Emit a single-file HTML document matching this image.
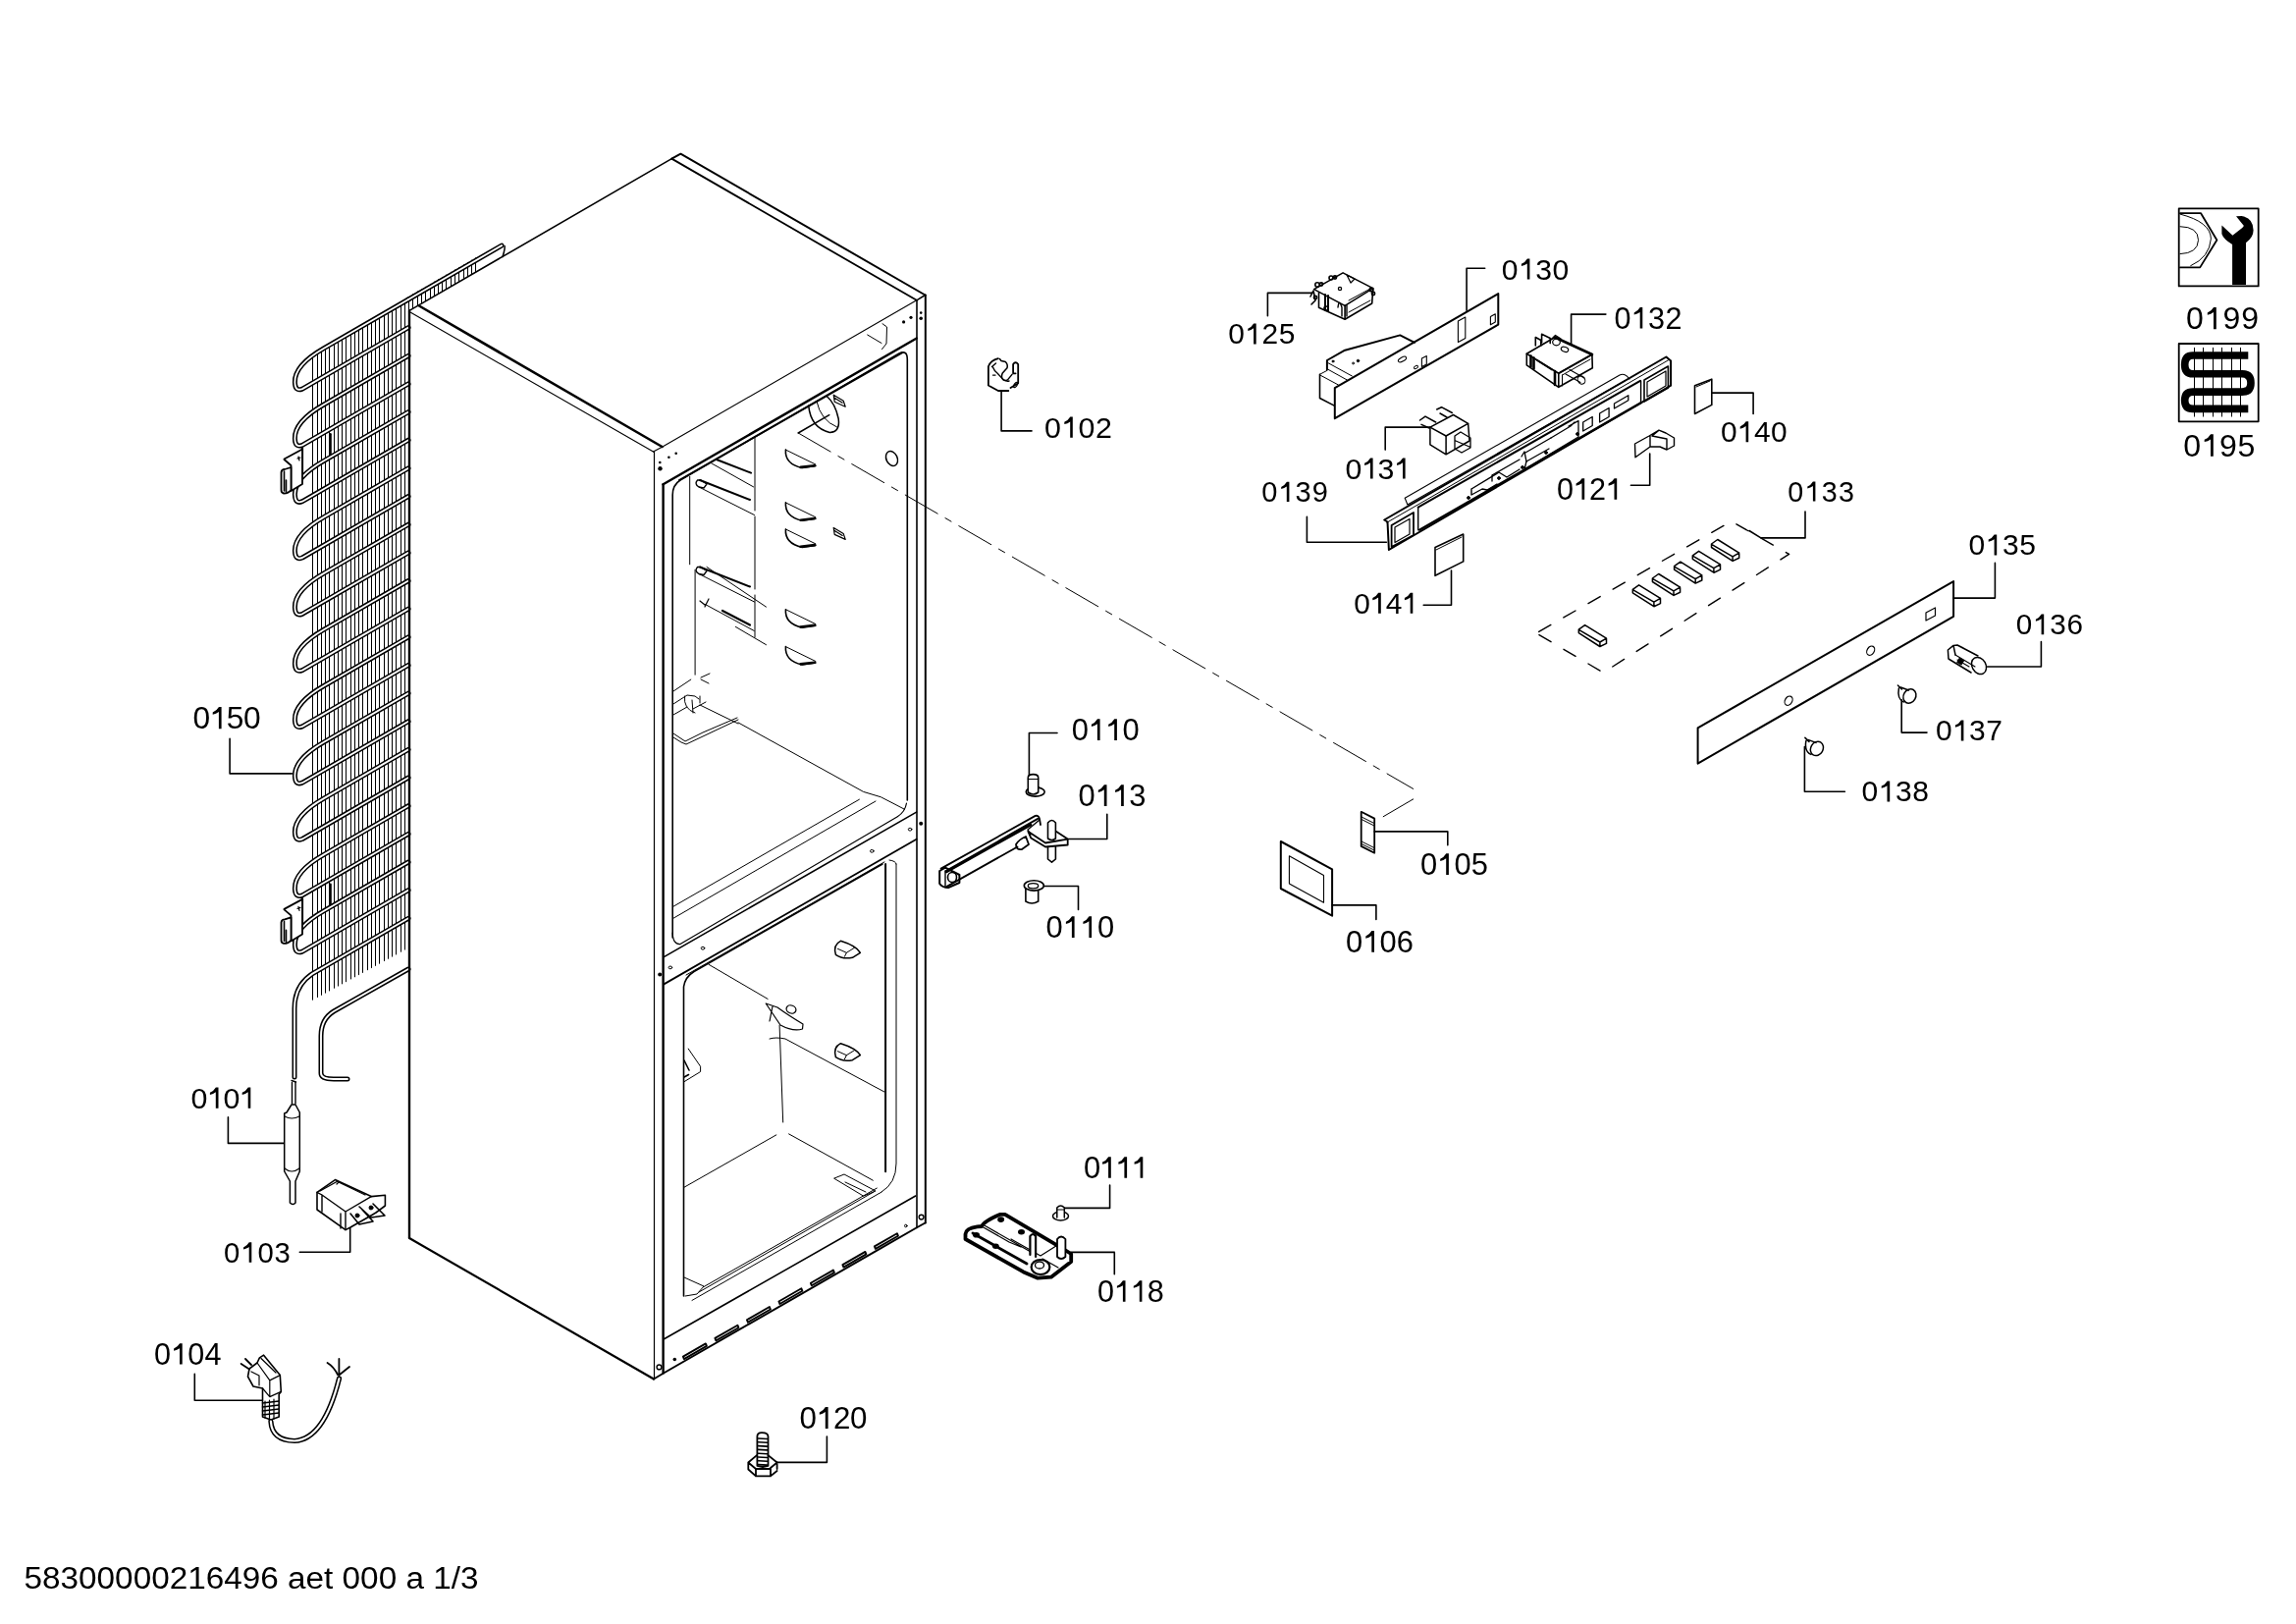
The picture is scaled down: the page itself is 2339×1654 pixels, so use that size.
<!DOCTYPE html>
<html><head><meta charset="utf-8"><style>
html,body{margin:0;padding:0;background:#fff;overflow:hidden}
svg{display:block;will-change:transform}
</style></head><body>
<svg width="2339" height="1654" viewBox="0 0 2339 1654" stroke-linecap="round" stroke-linejoin="round">
<rect width="2339" height="1654" fill="#fff"/>
<g font-family="&quot;Liberation Sans&quot;, sans-serif" fill="#000" stroke="none">
<text x="1529.8" y="284.6" font-size="30.1">0</text>
<path d="M1555.9,263.5 L1558.4,263.5 L1558.4,284.6 L1555.8,284.6 L1555.8,268.4 Q1553.3,270.3 1549.9,270.9 L1549.9,268.8 Q1553.8,267.2 1555.9,263.5 Z"/>
<text x="1564.2" y="284.6" font-size="30.1">3</text>
<text x="1581.4" y="284.6" font-size="30.1">0</text>
<text x="1251.2" y="350.4" font-size="29.9">0</text>
<path d="M1277.2,329.5 L1279.7,329.5 L1279.7,350.4 L1277.1,350.4 L1277.1,334.3 Q1274.5,336.3 1271.3,336.9 L1271.3,334.7 Q1275.0,333.2 1277.2,329.5 Z"/>
<text x="1285.6" y="350.4" font-size="29.9">2</text>
<text x="1302.8" y="350.4" font-size="29.9">5</text>
<text x="1644.4" y="334.5" font-size="30.6">0</text>
<path d="M1670.8,313.1 L1673.3,313.1 L1673.3,334.5 L1670.7,334.5 L1670.7,318.1 Q1668.1,320.0 1664.7,320.6 L1664.7,318.5 Q1668.6,316.9 1670.8,313.1 Z"/>
<text x="1679.1" y="334.5" font-size="30.6">3</text>
<text x="1696.5" y="334.5" font-size="30.6">2</text>
<text x="1064.0" y="445.8" font-size="30.4">0</text>
<path d="M1090.3,424.5 L1092.8,424.5 L1092.8,445.8 L1090.2,445.8 L1090.2,429.4 Q1087.6,431.4 1084.3,432.0 L1084.3,429.8 Q1088.1,428.2 1090.3,424.5 Z"/>
<text x="1098.6" y="445.8" font-size="30.4">0</text>
<text x="1115.9" y="445.8" font-size="30.4">2</text>
<text x="1752.9" y="450.2" font-size="29.9">0</text>
<path d="M1778.7,429.3 L1781.2,429.3 L1781.2,450.2 L1778.6,450.2 L1778.6,434.1 Q1776.0,436.1 1772.7,436.7 L1772.7,434.5 Q1776.5,433.0 1778.7,429.3 Z"/>
<text x="1786.9" y="450.2" font-size="29.9">4</text>
<text x="1803.9" y="450.2" font-size="29.9">0</text>
<text x="1370.6" y="487.6" font-size="30.3">0</text>
<path d="M1396.1,466.4 L1398.6,466.4 L1398.6,487.6 L1396.0,487.6 L1396.0,471.3 Q1393.4,473.3 1390.1,473.9 L1390.1,471.7 Q1393.9,470.1 1396.1,466.4 Z"/>
<text x="1403.6" y="487.6" font-size="30.3">3</text>
<path d="M1429.1,466.4 L1431.6,466.4 L1431.6,487.6 L1429.0,487.6 L1429.0,471.3 Q1426.4,473.3 1423.1,473.9 L1423.1,471.7 Q1426.9,470.1 1429.1,466.4 Z"/>
<text x="1285.2" y="511.1" font-size="29.0">0</text>
<path d="M1310.9,490.8 L1313.4,490.8 L1313.4,511.1 L1310.8,511.1 L1310.8,495.5 Q1308.4,497.4 1305.2,497.9 L1305.2,495.9 Q1308.9,494.4 1310.9,490.8 Z"/>
<text x="1319.6" y="511.1" font-size="29.0">3</text>
<text x="1336.7" y="511.1" font-size="29.0">9</text>
<text x="1586.1" y="508.7" font-size="30.6">0</text>
<path d="M1611.6,487.3 L1614.2,487.3 L1614.2,508.7 L1611.5,508.7 L1611.5,492.3 Q1609.0,494.2 1605.6,494.8 L1605.6,492.6 Q1609.4,491.1 1611.6,487.3 Z"/>
<text x="1619.1" y="508.7" font-size="30.6">2</text>
<path d="M1644.6,487.3 L1647.2,487.3 L1647.2,508.7 L1644.5,508.7 L1644.5,492.3 Q1642.0,494.2 1638.6,494.8 L1638.6,492.6 Q1642.4,491.1 1644.6,487.3 Z"/>
<text x="1821.3" y="510.5" font-size="28.7">0</text>
<path d="M1846.9,490.4 L1849.4,490.4 L1849.4,510.5 L1846.9,510.5 L1846.9,495.1 Q1844.4,496.9 1841.3,497.5 L1841.3,495.4 Q1844.9,493.9 1846.9,490.4 Z"/>
<text x="1855.7" y="510.5" font-size="28.7">3</text>
<text x="1872.9" y="510.5" font-size="28.7">3</text>
<text x="2005.6" y="565.4" font-size="30.0">0</text>
<path d="M2031.6,544.4 L2034.2,544.4 L2034.2,565.4 L2031.6,565.4 L2031.6,549.3 Q2029.0,551.2 2025.7,551.8 L2025.7,549.6 Q2029.5,548.1 2031.6,544.4 Z"/>
<text x="2040.1" y="565.4" font-size="30.0">3</text>
<text x="2057.3" y="565.4" font-size="30.0">5</text>
<text x="1379.2" y="624.7" font-size="29.9">0</text>
<path d="M1404.2,603.8 L1406.8,603.8 L1406.8,624.7 L1404.1,624.7 L1404.1,608.6 Q1401.6,610.6 1398.3,611.2 L1398.3,609.0 Q1402.1,607.5 1404.2,603.8 Z"/>
<text x="1411.7" y="624.7" font-size="29.9">4</text>
<path d="M1436.8,603.8 L1439.3,603.8 L1439.3,624.7 L1436.7,624.7 L1436.7,608.6 Q1434.2,610.6 1430.9,611.2 L1430.9,609.0 Q1434.7,607.5 1436.8,603.8 Z"/>
<text x="2053.7" y="646.3" font-size="29.7">0</text>
<path d="M2079.7,625.5 L2082.2,625.5 L2082.2,646.3 L2079.6,646.3 L2079.6,630.3 Q2077.1,632.2 2073.9,632.8 L2073.9,630.7 Q2077.6,629.2 2079.7,625.5 Z"/>
<text x="2088.3" y="646.3" font-size="29.7">3</text>
<text x="2105.6" y="646.3" font-size="29.7">6</text>
<text x="1972.0" y="754.4" font-size="30.0">0</text>
<path d="M1997.9,733.4 L2000.4,733.4 L2000.4,754.4 L1997.8,754.4 L1997.8,738.3 Q1995.2,740.2 1991.9,740.8 L1991.9,738.6 Q1995.7,737.1 1997.9,733.4 Z"/>
<text x="2006.1" y="754.4" font-size="30.0">3</text>
<text x="2023.2" y="754.4" font-size="30.0">7</text>
<text x="196.5" y="742.2" font-size="31.7">0</text>
<path d="M223.0,720.0 L225.6,720.0 L225.6,742.2 L222.9,742.2 L222.9,725.1 Q220.2,727.2 216.7,727.8 L216.7,725.6 Q220.7,723.9 223.0,720.0 Z"/>
<text x="230.8" y="742.2" font-size="31.7">5</text>
<text x="247.9" y="742.2" font-size="31.7">0</text>
<text x="1091.7" y="753.9" font-size="30.9">0</text>
<path d="M1118.0,732.3 L1120.6,732.3 L1120.6,753.9 L1117.9,753.9 L1117.9,737.3 Q1115.3,739.3 1111.9,739.9 L1111.9,737.7 Q1115.8,736.1 1118.0,732.3 Z"/>
<path d="M1135.3,732.3 L1137.9,732.3 L1137.9,753.9 L1135.2,753.9 L1135.2,737.3 Q1132.6,739.3 1129.2,739.9 L1129.2,737.7 Q1133.1,736.1 1135.3,732.3 Z"/>
<text x="1143.4" y="753.9" font-size="30.9">0</text>
<text x="1098.6" y="820.9" font-size="30.9">0</text>
<path d="M1124.9,799.3 L1127.5,799.3 L1127.5,820.9 L1124.8,820.9 L1124.8,804.3 Q1122.2,806.3 1118.8,806.9 L1118.8,804.7 Q1122.7,803.1 1124.9,799.3 Z"/>
<path d="M1142.2,799.3 L1144.8,799.3 L1144.8,820.9 L1142.1,820.9 L1142.1,804.3 Q1139.5,806.3 1136.1,806.9 L1136.1,804.7 Q1140.0,803.1 1142.2,799.3 Z"/>
<text x="1150.3" y="820.9" font-size="30.9">3</text>
<text x="1896.6" y="816.4" font-size="30.0">0</text>
<path d="M1922.6,795.4 L1925.2,795.4 L1925.2,816.4 L1922.5,816.4 L1922.5,800.3 Q1920.0,802.2 1916.7,802.8 L1916.7,800.6 Q1920.5,799.1 1922.6,795.4 Z"/>
<text x="1931.0" y="816.4" font-size="30.0">3</text>
<text x="1948.3" y="816.4" font-size="30.0">8</text>
<text x="1446.9" y="890.9" font-size="30.9">0</text>
<path d="M1473.3,869.3 L1475.9,869.3 L1475.9,890.9 L1473.2,890.9 L1473.2,874.3 Q1470.6,876.3 1467.2,876.9 L1467.2,874.7 Q1471.1,873.1 1473.3,869.3 Z"/>
<text x="1481.5" y="890.9" font-size="30.9">0</text>
<text x="1498.8" y="890.9" font-size="30.9">5</text>
<text x="1065.5" y="954.9" font-size="30.9">0</text>
<path d="M1092.0,933.3 L1094.6,933.3 L1094.6,954.9 L1091.9,954.9 L1091.9,938.3 Q1089.3,940.3 1085.9,940.9 L1085.9,938.7 Q1089.8,937.1 1092.0,933.3 Z"/>
<path d="M1109.5,933.3 L1112.1,933.3 L1112.1,954.9 L1109.4,954.9 L1109.4,938.3 Q1106.8,940.3 1103.4,940.9 L1103.4,938.7 Q1107.3,937.1 1109.5,933.3 Z"/>
<text x="1117.9" y="954.9" font-size="30.9">0</text>
<text x="1371.1" y="969.7" font-size="30.9">0</text>
<path d="M1397.4,948.1 L1400.0,948.1 L1400.0,969.7 L1397.3,969.7 L1397.3,953.1 Q1394.7,955.1 1391.3,955.7 L1391.3,953.5 Q1395.2,951.9 1397.4,948.1 Z"/>
<text x="1405.5" y="969.7" font-size="30.9">0</text>
<text x="1422.7" y="969.7" font-size="30.9">6</text>
<text x="194.5" y="1128.7" font-size="30.4">0</text>
<path d="M219.9,1107.4 L222.5,1107.4 L222.5,1128.7 L219.8,1128.7 L219.8,1112.3 Q217.3,1114.3 213.9,1114.9 L213.9,1112.7 Q217.7,1111.1 219.9,1107.4 Z"/>
<text x="227.4" y="1128.7" font-size="30.4">0</text>
<path d="M252.8,1107.4 L255.3,1107.4 L255.3,1128.7 L252.7,1128.7 L252.7,1112.3 Q250.1,1114.3 246.7,1114.9 L246.7,1112.7 Q250.6,1111.1 252.8,1107.4 Z"/>
<text x="1103.9" y="1199.8" font-size="30.9">0</text>
<path d="M1129.2,1178.2 L1131.8,1178.2 L1131.8,1199.8 L1129.1,1199.8 L1129.1,1183.2 Q1126.5,1185.2 1123.1,1185.8 L1123.1,1183.6 Q1127.0,1182.0 1129.2,1178.2 Z"/>
<path d="M1145.5,1178.2 L1148.1,1178.2 L1148.1,1199.8 L1145.4,1199.8 L1145.4,1183.2 Q1142.8,1185.2 1139.4,1185.8 L1139.4,1183.6 Q1143.3,1182.0 1145.5,1178.2 Z"/>
<path d="M1161.7,1178.2 L1164.3,1178.2 L1164.3,1199.8 L1161.6,1199.8 L1161.6,1183.2 Q1159.0,1185.2 1155.6,1185.8 L1155.6,1183.6 Q1159.5,1182.0 1161.7,1178.2 Z"/>
<text x="228.0" y="1285.8" font-size="29.3">0</text>
<path d="M253.8,1265.3 L256.3,1265.3 L256.3,1285.8 L253.7,1285.8 L253.7,1270.0 Q251.3,1271.9 248.0,1272.5 L248.0,1270.4 Q251.7,1268.9 253.8,1265.3 Z"/>
<text x="262.4" y="1285.8" font-size="29.3">0</text>
<text x="279.6" y="1285.8" font-size="29.3">3</text>
<text x="1118.0" y="1325.7" font-size="30.6">0</text>
<path d="M1143.9,1304.3 L1146.5,1304.3 L1146.5,1325.7 L1143.9,1325.7 L1143.9,1309.3 Q1141.3,1311.2 1137.9,1311.8 L1137.9,1309.7 Q1141.8,1308.1 1143.9,1304.3 Z"/>
<path d="M1160.9,1304.3 L1163.4,1304.3 L1163.4,1325.7 L1160.8,1325.7 L1160.8,1309.3 Q1158.2,1311.2 1154.8,1311.8 L1154.8,1309.7 Q1158.7,1308.1 1160.9,1304.3 Z"/>
<text x="1168.8" y="1325.7" font-size="30.6">8</text>
<text x="156.9" y="1389.6" font-size="30.6">0</text>
<path d="M183.1,1368.2 L185.7,1368.2 L185.7,1389.6 L183.0,1389.6 L183.0,1373.2 Q180.4,1375.1 177.1,1375.7 L177.1,1373.5 Q180.9,1372.0 183.1,1368.2 Z"/>
<text x="191.3" y="1389.6" font-size="30.6">0</text>
<text x="208.5" y="1389.6" font-size="30.6">4</text>
<text x="814.6" y="1454.9" font-size="31.3">0</text>
<path d="M840.9,1433.0 L843.6,1433.0 L843.6,1454.9 L840.8,1454.9 L840.8,1438.1 Q838.2,1440.1 834.8,1440.7 L834.8,1438.5 Q838.7,1436.9 840.9,1433.0 Z"/>
<text x="848.9" y="1454.9" font-size="31.3">2</text>
<text x="866.0" y="1454.9" font-size="31.3">0</text>
<text x="2226.9" y="335.3" font-size="32.0">0</text>
<path d="M2255.1,312.9 L2257.8,312.9 L2257.8,335.3 L2255.0,335.3 L2255.0,318.1 Q2252.3,320.2 2248.8,320.8 L2248.8,318.5 Q2252.8,316.8 2255.1,312.9 Z"/>
<text x="2264.5" y="335.3" font-size="32.0">9</text>
<text x="2283.3" y="335.3" font-size="32.0">9</text>
<text x="2224.3" y="464.7" font-size="32.1">0</text>
<path d="M2252.1,442.2 L2254.8,442.2 L2254.8,464.7 L2252.0,464.7 L2252.0,447.4 Q2249.3,449.5 2245.7,450.1 L2245.7,447.8 Q2249.8,446.2 2252.1,442.2 Z"/>
<text x="2261.0" y="464.7" font-size="32.1">9</text>
<text x="2279.4" y="464.7" font-size="32.1">5</text>
<text x="24.5" y="1618.4" font-size="31" textLength="463" lengthAdjust="spacingAndGlyphs">58300000216496 aet 000 a 1/3</text>
</g>
<g stroke="#000" fill="none" stroke-width="1.6">
<path d="M1512.7,273.3 L1494.1,273.3 L1494.1,316.2"/>
<path d="M1336.7,298.4 L1291.4,298.4 L1291.4,321.7"/>
<path d="M1635.9,320.1 L1600.6,320.1 L1600.6,351.0"/>
<path d="M1020.1,397.9 L1020.1,438.9 L1051.0,438.9"/>
<path d="M1786.1,421.5 L1786.1,400.1 L1744.3,400.1"/>
<path d="M1411.2,458.1 L1411.2,435.1 L1456.4,435.1"/>
<path d="M1331.4,526.2 L1331.4,552.3 L1412.4,552.3"/>
<path d="M1661.4,494.3 L1680.7,494.3 L1680.7,462.0"/>
<path d="M1839.0,521.0 L1839.0,547.9 L1793.9,547.9 L1782.0,540.5"/>
<path d="M2032.4,573.4 L2032.4,609.1 L1990.1,609.1"/>
<path d="M1450.2,616.3 L1478.5,616.3 L1478.5,581.0"/>
<path d="M2079.4,653.6 L2079.4,679.0 L2024.4,679.0"/>
<path d="M1963.0,746.1 L1937.2,746.1 L1937.2,712.7"/>
<path d="M1879.4,806.3 L1838.4,806.3 L1838.4,760.5"/>
<path d="M234.1,752.3 L234.1,787.9 L297.3,787.9"/>
<path d="M1077.0,746.5 L1048.4,746.5 L1048.4,789.6"/>
<path d="M1127.8,829.3 L1127.8,854.5 L1088.5,854.5"/>
<path d="M1098.5,926.4 L1098.5,902.5 L1061.5,902.5"/>
<path d="M1474.8,860.7 L1474.8,846.9 L1400.2,846.9"/>
<path d="M1401.9,936.4 L1401.9,921.9 L1357.1,921.9"/>
<path d="M232.4,1137.9 L232.4,1164.4 L289.0,1164.4"/>
<path d="M305.3,1275.2 L356.7,1275.2 L356.7,1250.4"/>
<path d="M198.3,1399.4 L198.3,1426.2 L267.0,1426.2"/>
<path d="M842.4,1463.0 L842.4,1489.4 L791.2,1489.4"/>
<path d="M1130.6,1207.1 L1130.6,1230.4 L1082.3,1230.4"/>
<path d="M1135.3,1297.7 L1135.3,1275.4 L1091.2,1275.4"/>
</g>
<g stroke="#000" fill="none">
<line x1="417.0" y1="316.0" x2="417.0" y2="1261.0" stroke-width="2.2"/>
<line x1="417.0" y1="1261.0" x2="666.0" y2="1404.5" stroke-width="2.2"/>
<line x1="666.5" y1="460.0" x2="666.5" y2="1404.0" stroke-width="1.2"/>
<line x1="427.0" y1="311.5" x2="674.5" y2="455.0" stroke-width="2.6"/>
<line x1="418.0" y1="318.0" x2="665.5" y2="460.0" stroke-width="1.1"/>
<path d="M684.3,161.6 L693.4,156.7 L942.5,300.5" stroke-width="2.0" fill="none"/>
<line x1="684.3" y1="161.6" x2="933.8" y2="305.8" stroke-width="1.8"/>
<line x1="674.5" y1="455.3" x2="933.8" y2="305.8" stroke-width="1.1"/>
<line x1="933.8" y1="305.8" x2="942.5" y2="300.5" stroke-width="1.5"/>
<line x1="665.5" y1="460.0" x2="674.5" y2="455.3" stroke-width="1.2"/>
<line x1="942.8" y1="300.5" x2="942.8" y2="1245.5" stroke-width="2.0"/>
<line x1="934.0" y1="305.8" x2="934.0" y2="1250.5" stroke-width="1.6"/>
<path d="M666,1404.5 L676,1398.5 L933.5,1250.5 L942.5,1245.5" stroke-width="2.0" fill="none"/>
<line x1="675.6" y1="493.3" x2="675.6" y2="1398.5" stroke-width="2.4"/>
<line x1="675.6" y1="493.3" x2="933.8" y2="344.5" stroke-width="2.4"/>
<path d="M685.2,955 L685.2,504 Q685.2,494 693,489 L916,360 Q924.3,356 924.3,366 L924.3,815" stroke-width="1.6" fill="none"/>
<line x1="702.7" y1="485.4" x2="702.7" y2="574.8" stroke-width="1.0"/>
<line x1="708.1" y1="580.2" x2="708.1" y2="687.2" stroke-width="1.0"/>
<line x1="769.0" y1="446.0" x2="769.0" y2="520.0" stroke-width="1.0"/>
<line x1="769.0" y1="526.0" x2="769.0" y2="600.0" stroke-width="1.0"/>
<line x1="769.0" y1="606.0" x2="769.0" y2="649.0" stroke-width="1.0"/>
<path d="M752,735.9 L879.6,806.4 L897.5,811.8 L921.6,824.3" stroke-width="1.0" fill="none"/>
<line x1="686.0" y1="923.2" x2="875.4" y2="814.2" stroke-width="1.0"/>
<line x1="686.0" y1="935.2" x2="892.0" y2="816.0" stroke-width="1.0"/>
<path d="M685.2,950 Q685.5,962 693,961.6 L914.3,831.7 Q922,827 923.5,818" stroke-width="1.2" fill="none"/>
<line x1="675.9" y1="974.9" x2="933.6" y2="827.1" stroke-width="1.6"/>
<line x1="675.9" y1="1002.6" x2="933.6" y2="854.8" stroke-width="1.8"/>
<path d="M696.5,1320 L696.5,1005 Q698,995 707,989.5 L899,880" stroke-width="1.6" fill="none"/>
<line x1="699.0" y1="993.0" x2="901.0" y2="877.9" stroke-width="1.0"/>
<line x1="902.1" y1="880.0" x2="902.1" y2="1193.3" stroke-width="2.0"/>
<path d="M913,880 Q913,877 906,876 M913,880 L913,1185 Q913,1205 898,1214" stroke-width="1.0" fill="none"/>
<line x1="705.0" y1="1324.4" x2="898.2" y2="1214.0" stroke-width="1.0"/>
<line x1="676.5" y1="1363.8" x2="932.7" y2="1218.0" stroke-width="1.6"/>
<defs><clipPath id="finclip"><path d="M316,362.7 L417,304.4 L417,965 L316,1020 Z"/></clipPath>
<clipPath id="finclip2"><path d="M416,302.0 L486,261.6 L486,276.6 L416,317.0 Z"/></clipPath></defs>
<path d="M318.5,250 V1030 M323.5,250 V1030 M327.5,250 V1030 M331.5,250 V1030 M335.5,250 V1030 M340.5,250 V1030 M344.5,250 V1030 M348.5,250 V1030 M352.5,250 V1030 M357.5,250 V1030 M361.5,250 V1030 M365.5,250 V1030 M369.5,250 V1030 M374.5,250 V1030 M378.5,250 V1030 M382.5,250 V1030 M386.5,250 V1030 M391.5,250 V1030 M395.5,250 V1030 M399.5,250 V1030 M403.5,250 V1030 M408.5,250 V1030 M412.5,250 V1030 M416.5,250 V1030 " stroke-width="1" clip-path="url(#finclip)"/>
<path d="M420.5,240 V330 M425.5,240 V330 M429.5,240 V330 M433.5,240 V330 M438.5,240 V330 M442.5,240 V330 M446.5,240 V330 M450.5,240 V330 M454.5,240 V330 M459.5,240 V330 M463.5,240 V330 M467.5,240 V330 M472.5,240 V330 M476.5,240 V330 M480.5,240 V330 M484.5,240 V330 " stroke-width="1" clip-path="url(#finclip2)"/>
<path d="M416,305.0 L330,354.7 C312,365.0 300,377.0 300.4,389.3 C300.6,396.0 303,398.0 308,396.1 L416,333.6" stroke-width="5.0"/>
<path d="M416,362.3 L330,412.0 C312,422.3 300,434.3 300.4,446.6 C300.6,453.3 303,455.3 308,453.4 L416,390.9" stroke-width="5.0"/>
<path d="M416,419.6 L330,469.3 C312,479.6 300,491.6 300.4,503.9 C300.6,510.6 303,512.6 308,510.7 L416,448.2" stroke-width="5.0"/>
<path d="M416,476.9 L330,526.6 C312,536.9 300,548.9 300.4,561.2 C300.6,567.9 303,569.9 308,568.0 L416,505.5" stroke-width="5.0"/>
<path d="M416,534.2 L330,583.9 C312,594.2 300,606.2 300.4,618.5 C300.6,625.2 303,627.2 308,625.3 L416,562.9" stroke-width="5.0"/>
<path d="M416,591.5 L330,641.2 C312,651.5 300,663.5 300.4,675.8 C300.6,682.5 303,684.5 308,682.6 L416,620.1" stroke-width="5.0"/>
<path d="M416,648.8 L330,698.5 C312,708.8 300,720.8 300.4,733.1 C300.6,739.8 303,741.8 308,739.9 L416,677.4" stroke-width="5.0"/>
<path d="M416,706.1 L330,755.8 C312,766.1 300,778.1 300.4,790.4 C300.6,797.1 303,799.1 308,797.2 L416,734.7" stroke-width="5.0"/>
<path d="M416,763.4 L330,813.1 C312,823.4 300,835.4 300.4,847.7 C300.6,854.4 303,856.4 308,854.5 L416,792.0" stroke-width="5.0"/>
<path d="M416,820.7 L330,870.4 C312,880.7 300,892.7 300.4,905.0 C300.6,911.7 303,913.7 308,911.8 L416,849.3" stroke-width="5.0"/>
<path d="M416,878.0 L330,927.7 C312,938.0 300,950.0 300.4,962.3 C300.6,969.0 303,971.0 308,969.1 L416,906.6" stroke-width="5.0"/>
<path d="M416,305.0 L511,250.1" stroke-width="5.0"/>
<path d="M416,935.3 L318,991.9 Q300,1003.9 300,1026.9 L300,1097" stroke-width="5.0"/>
<path d="M416,987 L340,1030 Q327,1038 327,1055 L327,1093 Q327,1099 340,1099 L354,1099" stroke-width="5.0"/>
<path d="M416,305.0 L330,354.7 C312,365.0 300,377.0 300.4,389.3 C300.6,396.0 303,398.0 308,396.1 L416,333.6" stroke="#fff" stroke-width="1.9"/>
<path d="M416,362.3 L330,412.0 C312,422.3 300,434.3 300.4,446.6 C300.6,453.3 303,455.3 308,453.4 L416,390.9" stroke="#fff" stroke-width="1.9"/>
<path d="M416,419.6 L330,469.3 C312,479.6 300,491.6 300.4,503.9 C300.6,510.6 303,512.6 308,510.7 L416,448.2" stroke="#fff" stroke-width="1.9"/>
<path d="M416,476.9 L330,526.6 C312,536.9 300,548.9 300.4,561.2 C300.6,567.9 303,569.9 308,568.0 L416,505.5" stroke="#fff" stroke-width="1.9"/>
<path d="M416,534.2 L330,583.9 C312,594.2 300,606.2 300.4,618.5 C300.6,625.2 303,627.2 308,625.3 L416,562.9" stroke="#fff" stroke-width="1.9"/>
<path d="M416,591.5 L330,641.2 C312,651.5 300,663.5 300.4,675.8 C300.6,682.5 303,684.5 308,682.6 L416,620.1" stroke="#fff" stroke-width="1.9"/>
<path d="M416,648.8 L330,698.5 C312,708.8 300,720.8 300.4,733.1 C300.6,739.8 303,741.8 308,739.9 L416,677.4" stroke="#fff" stroke-width="1.9"/>
<path d="M416,706.1 L330,755.8 C312,766.1 300,778.1 300.4,790.4 C300.6,797.1 303,799.1 308,797.2 L416,734.7" stroke="#fff" stroke-width="1.9"/>
<path d="M416,763.4 L330,813.1 C312,823.4 300,835.4 300.4,847.7 C300.6,854.4 303,856.4 308,854.5 L416,792.0" stroke="#fff" stroke-width="1.9"/>
<path d="M416,820.7 L330,870.4 C312,880.7 300,892.7 300.4,905.0 C300.6,911.7 303,913.7 308,911.8 L416,849.3" stroke="#fff" stroke-width="1.9"/>
<path d="M416,878.0 L330,927.7 C312,938.0 300,950.0 300.4,962.3 C300.6,969.0 303,971.0 308,969.1 L416,906.6" stroke="#fff" stroke-width="1.9"/>
<path d="M416,305.0 L511,250.1" stroke="#fff" stroke-width="1.9"/>
<path d="M416,935.3 L318,991.9 Q300,1003.9 300,1026.9 L300,1097" stroke="#fff" stroke-width="1.9"/>
<path d="M416,987 L340,1030 Q327,1038 327,1055 L327,1093 Q327,1099 340,1099 L354,1099" stroke="#fff" stroke-width="1.9"/>
<path d="M514.1,250.6 Q514.5,254.1 512.0,261.5" stroke-width="1.5"/>
<line x1="417.0" y1="316.4" x2="684.3" y2="161.6" stroke-width="1.6"/>
<line x1="417.0" y1="316.4" x2="417.0" y2="1261.0" stroke-width="2.2"/>
<line x1="692.0" y1="489.0" x2="918.8" y2="359.3" stroke-width="2.0"/>
<circle cx="672.5" cy="477.3" r="2.2" fill="#000" stroke="none"/>
<circle cx="672.3" cy="471" r="1.3" fill="#000" stroke="none"/>
<circle cx="681.4" cy="465.7" r="1.3" fill="#000" stroke="none"/>
<circle cx="688.7" cy="461.8" r="1.3" fill="#000" stroke="none"/>
<circle cx="920.6" cy="327.9" r="1.6" fill="#000" stroke="none"/>
<circle cx="928" cy="323.3" r="1.6" fill="#000" stroke="none"/>
<circle cx="938.2" cy="324.2" r="1.8" fill="#000" stroke="none"/>
<circle cx="938.2" cy="318.6" r="1.3" fill="#000" stroke="none"/>
<path d="M883.7,341 L898,349.5 M899,329.7 L903.5,333 L903,350 L898.5,355.6" stroke-width="1.0" fill="none"/>
<path d="M823.7,413.2 Q826,436 845.3,440.4 Q856,440 854.2,426.5 Q851,411 842,403.3" stroke-width="1.5" fill="none"/>
<path d="M832,408.8 Q836,428 852.5,434.9" stroke-width="1.0" fill="none"/>
<path d="M813.2,441 L844.8,422.7" stroke-width="1.5" fill="none"/>
<path d="M849.2,402.2 L859.2,408.2 L861.2,414.2 L850.2,409.2 Z M850.2,405.2 L858.2,410.2" stroke-width="1.2" fill="none"/>
<path d="M849.2,537.4 L859.2,543.4 L861.2,549.4 L850.2,544.4 Z M850.2,540.4 L858.2,545.4" stroke-width="1.2" fill="none"/>
<ellipse cx="908.5" cy="467" rx="5.6" ry="7.8" transform="rotate(-25 908.5 467)" stroke-width="1.5"/>
<path d="M800.4,458.1 L830.9,473.0" stroke-width="1"/>
<path d="M800.4,458.1 Q799.4,472.7 817.2,476.5 L830.9,474.5" stroke-width="1.6"/>
<path d="M815.6,475.9 L829.9,474.2" stroke-width="2.6"/>
<path d="M800.4,511.9 L830.9,526.8" stroke-width="1"/>
<path d="M800.4,511.9 Q799.4,526.4 817.2,530.3 L830.9,528.3" stroke-width="1.6"/>
<path d="M815.6,529.7 L829.9,528.0" stroke-width="2.6"/>
<path d="M800.4,539.0 L830.9,553.9" stroke-width="1"/>
<path d="M800.4,539.0 Q799.4,553.5 817.2,557.4 L830.9,555.4" stroke-width="1.6"/>
<path d="M815.6,556.8 L829.9,555.1" stroke-width="2.6"/>
<path d="M800.4,620.7 L830.9,635.6" stroke-width="1"/>
<path d="M800.4,620.7 Q799.4,635.2 817.2,639.1 L830.9,637.1" stroke-width="1.6"/>
<path d="M815.6,638.5 L829.9,636.8" stroke-width="2.6"/>
<path d="M800.4,658.6 L830.9,673.5" stroke-width="1"/>
<path d="M800.4,658.6 Q799.4,673.1 817.2,677.0 L830.9,675.0" stroke-width="1.6"/>
<path d="M815.6,676.4 L829.9,674.7" stroke-width="2.6"/>
<path d="M710.5,489.0 Q707,493.0 712,496.0 L717,497.0 L720,493.0 L714,489.0 Z" stroke-width="1.3" fill="none"/>
<line x1="713.0" y1="489.0" x2="764.0" y2="509.0" stroke-width="2.0"/>
<line x1="712.0" y1="496.0" x2="768.5" y2="524.5" stroke-width="1.0"/>
<path d="M710.5,577.5 Q707,581.5 712,584.5 L717,585.5 L720,581.5 L714,577.5 Z" stroke-width="1.3" fill="none"/>
<line x1="713.0" y1="577.5" x2="764.0" y2="597.5" stroke-width="2.0"/>
<line x1="712.0" y1="584.5" x2="768.5" y2="613.0" stroke-width="1.0"/>
<line x1="720.0" y1="577.5" x2="780.5" y2="618.1" stroke-width="1.0"/>
<line x1="730.5" y1="468.3" x2="765.0" y2="481.6" stroke-width="2.0"/>
<line x1="724.5" y1="471.7" x2="767.6" y2="495.9" stroke-width="1.0"/>
<line x1="718.2" y1="615.4" x2="768.3" y2="642.5" stroke-width="1.0"/>
<line x1="749.4" y1="638.4" x2="780.5" y2="656.7" stroke-width="1.0"/>
<line x1="736.0" y1="622.0" x2="764.0" y2="636.5" stroke-width="2.2"/>
<line x1="713.0" y1="612.0" x2="718.0" y2="616.0" stroke-width="1.2"/>
<line x1="722.0" y1="610.0" x2="718.0" y2="618.0" stroke-width="1.2"/>
<path d="M686,704 L703.8,692.1 M686,717 L700,708 L708,709 L712,712" stroke-width="1.0" fill="none"/>
<path d="M697.5,709 Q696,722 708,726 M705,713 L706,726 M713,709 L713,716" stroke-width="1.0" fill="none"/>
<path d="M686,728 L700,720 M706,722 L719,715" stroke-width="1.0" fill="none"/>
<path d="M686,747 L698,755 L716,746 L751,731" stroke-width="1.0" fill="none"/>
<path d="M686,751 L694,756 L699,758 L716,750 L752,733" stroke-width="1.0" fill="none"/>
<line x1="713.0" y1="718.0" x2="752.0" y2="737.0" stroke-width="1.0"/>
<line x1="714.0" y1="690.0" x2="723.0" y2="686.0" stroke-width="1.0"/>
<line x1="714.0" y1="692.0" x2="722.0" y2="696.0" stroke-width="1.0"/>
<path d="M813.2,441 L1439.7,803.4" stroke-width="1" stroke-dasharray="38 9 7 9"/>
<path d="M1409.2,831.7 L1439.7,813.9" stroke-width="1"/>
<ellipse cx="716" cy="965.7" rx="1.8" ry="1.4" stroke-width="1"/>
<ellipse cx="682.9" cy="985.4" rx="1.8" ry="1.4" stroke-width="1"/>
<ellipse cx="888.3" cy="866.8" rx="1.8" ry="1.4" stroke-width="1"/>
<ellipse cx="927.1" cy="844.7" rx="1.8" ry="1.4" stroke-width="1"/>
<circle cx="672.2" cy="992.5" r="2" fill="#000" stroke="none"/>
<circle cx="938.2" cy="838.7" r="2" fill="#000" stroke="none"/>
<path d="M856.4,958.3 Q848.4,962.3 851.4,972.3 Q858.4,977.3 868.4,975.3 L876.4,970.3 Q872.4,963.3 856.4,958.3 Z" stroke-width="1.5" fill="none"/>
<path d="M853.4,966.3 L862.4,970.3 L870.4,965.3 M862.4,970.3 L860.4,974.3" stroke-width="1.0" fill="none"/>
<path d="M856.4,1062.7 Q848.4,1066.7 851.4,1076.7 Q858.4,1081.7 868.4,1079.7 L876.4,1074.7 Q872.4,1067.7 856.4,1062.7 Z" stroke-width="1.5" fill="none"/>
<path d="M853.4,1070.7 L862.4,1074.7 L870.4,1069.7 M862.4,1074.7 L860.4,1078.7" stroke-width="1.0" fill="none"/>
<path d="M780.2,1022 L792,1026 Q803,1034 818,1043 L817.5,1048 Q808,1051 795,1044 Z M787,1025 L784,1040" stroke-width="1.2" fill="none"/>
<ellipse cx="806" cy="1028" rx="5" ry="4" transform="rotate(20 806 1028)" stroke-width="1.3"/>
<line x1="722.0" y1="982.3" x2="782.1" y2="1017.4" stroke-width="1.0"/>
<line x1="794.1" y1="1044.2" x2="797.7" y2="1143.0" stroke-width="1.0"/>
<path d="M784,1058 Q790,1056 800,1058 L900.7,1111.9" stroke-width="1.0" fill="none"/>
<line x1="697.2" y1="1209.1" x2="790.8" y2="1155.9" stroke-width="1.0"/>
<line x1="803.6" y1="1154.9" x2="889.3" y2="1202.2" stroke-width="1.0"/>
<line x1="716.9" y1="1310.6" x2="893.3" y2="1210.1" stroke-width="1.0"/>
<line x1="712.0" y1="1316.0" x2="890.0" y2="1214.0" stroke-width="1.0"/>
<path d="M697,1301 L717,1310 L710,1318 L698,1320" stroke-width="1.0" fill="none"/>
<path d="M850,1200 L860,1196 L892,1213 L880,1218 Z M861,1204 L882,1214" stroke-width="1.0" fill="none"/>
<path d="M701.2,1068.1 L713.6,1086.2 L713.6,1091.5 L696.8,1101.8" stroke-width="1.0" fill="none"/>
<path d="M697,1080 L702,1090 M697,1097 L701.5,1094.5" stroke-width="1.6" fill="none"/>
<path d="M695.9,1381.6 L718.9,1368.4 L719.9,1370.9 L696.9,1384.1 Z" stroke-width="1.9"/>
<path d="M728.4,1362.9 L751.4,1349.7 L752.4,1352.2 L729.4,1365.4 Z" stroke-width="1.9"/>
<path d="M760.9,1344.2 L783.9,1331.0 L784.9,1333.5 L761.9,1346.7 Z" stroke-width="1.9"/>
<path d="M793.4,1325.5 L816.4,1312.3 L817.4,1314.8 L794.4,1328.0 Z" stroke-width="1.9"/>
<path d="M825.9,1306.8 L848.9,1293.6 L849.9,1296.1 L826.9,1309.3 Z" stroke-width="1.9"/>
<path d="M858.4,1288.1 L881.4,1274.9 L882.4,1277.4 L859.4,1290.6 Z" stroke-width="1.9"/>
<path d="M890.9,1269.4 L913.9,1256.2 L914.9,1258.7 L891.9,1271.9 Z" stroke-width="1.9"/>
<circle cx="687.3" cy="1384.5" r="1.8" fill="#000" stroke="none"/>
<circle cx="922.8" cy="1248.5" r="1.3" stroke-width="1"/>
<circle cx="938.6" cy="1239.6" r="2.4" stroke-width="1.4"/>
<circle cx="671.5" cy="1392.4" r="2.4" stroke-width="1.4"/>
<path d="M1359.8,395.1 L1526.3,299.1 L1526.3,330.6 L1359.8,426.2 Z" stroke-width="2.0" fill="none"/>
<path d="M1351.9,376.4 L1351.9,367 L1370.1,356.7 L1426.3,341.4 L1441,348.8" stroke-width="2.0" fill="none"/>
<path d="M1344.5,381.3 L1344.5,405.5 L1358.8,412.9" stroke-width="1.6" fill="none"/>
<path d="M1344.5,381.3 L1351.9,377.4 M1353,369.7 L1377.4,383 M1353,376.3 L1372.5,387.1 M1345.3,382.3 L1363.4,392" stroke-width="1.0" fill="none"/>
<path d="M1485.4,327.0 L1492.8,323.0 L1492.8,344.5 L1485.4,348.5 Z" stroke-width="1.1" fill="none"/>
<path d="M1518.4,322.5 L1523.3,319.8 L1523.3,328.0 L1518.4,330.7 Z" stroke-width="1.1" fill="none"/>
<ellipse cx="1428.5" cy="366" rx="4.5" ry="2" transform="rotate(-28 1428.5 366)" stroke-width="1.1"/>
<path d="M1448.4,365.0 L1453.3,362.6 L1453.3,371.0 L1448.4,373.5 Z" stroke-width="1.1" fill="none"/>
<ellipse cx="1442.5" cy="374" rx="2.2" ry="1.3" transform="rotate(-28 1442.5 374)" stroke-width="1"/>
<circle cx="1358" cy="368" r="1" fill="#000"/><circle cx="1383.5" cy="367.5" r="1.2" fill="#000"/><circle cx="1378.5" cy="370" r="0.9"/>
<path d="M1338.6,294.6 L1368.1,277.9 L1398.7,293.6 L1370.1,311.4 Z" stroke-width="1.6" fill="none"/>
<path d="M1343.5,298.6 L1343.5,313.3 L1370.1,325.2 L1397.7,309 L1398.7,293.6 M1370.1,311.4 L1370.1,325.2" stroke-width="1.6" fill="none"/>
<path d="M1350,300 L1350,316 M1353,301 L1353,317" stroke-width="2.0" fill="none"/>
<path d="M1363,313 Q1364,304 1367,313 L1367,322 M1372,311 L1372,322" stroke-width="1.4" fill="none"/>
<path d="M1374,306 L1396,294 M1374,318 L1396,306" stroke-width="1.0" fill="none"/>
<circle cx="1342" cy="290" r="2.2" stroke-width="1.6"/>
<circle cx="1346" cy="289.5" r="1.6" stroke-width="1.6"/>
<circle cx="1356" cy="283" r="2" stroke-width="1.6"/>
<circle cx="1360" cy="282.5" r="1.6" stroke-width="1.6"/>
<circle cx="1397" cy="295" r="1.8" stroke-width="1.6"/>
<circle cx="1399" cy="299" r="1.6" stroke-width="1.6"/>
<circle cx="1340" cy="303" r="1.6" stroke-width="1.6"/>
<circle cx="1351" cy="314" r="2" stroke-width="1.6"/>
<path d="M1335,302 L1338,296 L1340,306 L1336,310" stroke-width="1.6" fill="none"/>
<path d="M1372,280 L1380,284 L1376,288 Z" stroke-width="1.2" fill="none"/>
<circle cx="1365" cy="294" r="1.6" stroke-width="1.3"/>
<path d="M1555.3,360.2 L1584.0,343.5 L1621.9,361.0 L1587.8,380.2 Z" stroke-width="1.6" fill="none"/>
<line x1="1584.0" y1="343.5" x2="1621.9" y2="361.0" stroke-width="2.8"/>
<path d="M1555.3,360.2 L1555.3,371.9 L1587.8,394.3 L1587.8,380.2 M1587.8,380.2 L1621.9,361 L1622.3,374.7 L1587.8,394.3" stroke-width="1.6" fill="none"/>
<path d="M1559.5,362.5 L1559.5,373.5 M1562.5,364.5 L1562.5,375.5 M1584,378 L1584,392" stroke-width="2.6" fill="none"/>
<path d="M1566,367 L1581,376.5" stroke-width="1.8" fill="none"/>
<path d="M1591.5,382 L1591.5,393 M1591.5,382 L1620,366" stroke-width="1.0" fill="none"/>
<path d="M1595,381 L1610,389.5 M1599,376.5 L1614,385" stroke-width="1.1" fill="none"/>
<ellipse cx="1611" cy="387" rx="3.6" ry="4.4" transform="rotate(-30 1611 387)" stroke-width="1.1"/>
<path d="M1564.3,352 L1564.3,343.5 L1569.8,346.5 L1569.8,352 M1570.6,349 L1570.6,340.2 L1579.2,344.5 L1579.2,349.6" stroke-width="1.6" fill="none"/>
<ellipse cx="1585.5" cy="348.5" rx="3.8" ry="3.4" stroke-width="1.2"/><ellipse cx="1594" cy="355.8" rx="3.8" ry="2.4" transform="rotate(20 1594 355.8)" stroke-width="1.2"/>
<path d="M1581,345 L1584.5,341.5 L1590,345" stroke-width="1.4" fill="none"/>
<path d="M1456.9,435.1 L1480.5,422.5 L1495.6,431.4 L1473.1,444.0 Z" stroke-width="1.5" fill="none"/>
<path d="M1456.9,435.1 L1456.9,452.9 L1473.1,462.8 L1497,449 L1495.6,431.4 M1473.1,444 L1473.1,462.8" stroke-width="1.5" fill="none"/>
<path d="M1446.5,428 L1452,424.1 L1462.7,430 M1448,432.4 L1456,436" stroke-width="1.5" fill="none"/>
<path d="M1463.7,417 L1468.5,414.7 L1479.4,420.5 M1467,421 L1474,425" stroke-width="1.5" fill="none"/>
<path d="M1482,444 L1488,440 L1498,446 L1498,456 L1489,461 L1482,457 Z M1483,449 L1497,455" stroke-width="1.3" fill="none"/>
<path d="M1410.2,529.5 L1697.4,363.5 L1702.1,367.6 L1702.1,392.7 L1414.9,560 L1413.5,531.5 Z" stroke-width="2.0" fill="none"/>
<line x1="1412.9" y1="532.2" x2="1699.4" y2="366.9" stroke-width="1.0"/>
<line x1="1444.7" y1="516.6" x2="1671.0" y2="387.9" stroke-width="2.0"/>
<line x1="1446.0" y1="539.7" x2="1671.6" y2="410.3" stroke-width="2.2"/>
<line x1="1444.7" y1="516.6" x2="1444.7" y2="539.7" stroke-width="1.4"/>
<line x1="1671.6" y1="388.0" x2="1671.6" y2="410.3" stroke-width="1.4"/>
<path d="M1431.2,507.2 L1433.9,514 M1431.2,507.2 L1650,382 Q1654,380 1657.4,383.2 L1660,386 M1433.9,514 L1655,388" stroke-width="1.1" fill="none"/>
<path d="M1417.6,535.0 L1440.0,522.0 L1440.0,545.0 L1417.6,557.0 Z" stroke-width="1.8" fill="none"/>
<path d="M1421.0,537.0 L1436.0,528.5 L1436.0,544.0 L1421.0,552.5 Z" stroke-width="1.2" fill="none"/>
<path d="M1675.0,387.0 L1699.4,373.0 L1699.4,395.0 L1675.0,409.0 Z" stroke-width="1.6" fill="none"/>
<path d="M1678.0,389.0 L1697.0,378.0 L1697.0,393.0 L1678.0,404.0 Z" stroke-width="1.2" fill="none"/>
<path d="M1612.7,430.0 L1622.2,424.5 L1622.2,433.5 L1612.7,439.0 Z" stroke-width="1.3" fill="none"/>
<path d="M1629.6,421.0 L1639.1,415.5 L1639.1,424.5 L1629.6,430.0 Z" stroke-width="1.3" fill="none"/>
<path d="M1644.5,411.0 L1658.8,402.7 L1658.8,407.7 L1644.5,416.0 Z" stroke-width="1.3" fill="none"/>
<path d="M1499,498 L1499,504 L1510,498 L1515,499 L1525,493 M1499,498 L1527,481 L1535,486 L1548,478" stroke-width="1.4" fill="none"/>
<path d="M1520,484 L1548,468 M1520,484 L1520,490 M1550,465 L1553,460 L1555,470 L1578,457 M1554,461 L1580,446" stroke-width="1.3" fill="none"/>
<path d="M1555,470 L1553,478 L1608,445 L1608,428.6 L1598,434 M1580,446 L1600,434 L1604,430" stroke-width="1.3" fill="none"/>
<circle cx="1496" cy="507" r="1.4" fill="#000"/>
<circle cx="1527" cy="487" r="1.4" fill="#000"/>
<circle cx="1551" cy="476" r="1.4" fill="#000"/>
<circle cx="1575" cy="461" r="1.4" fill="#000"/>
<circle cx="1607" cy="442" r="1.4" fill="#000"/>
<path d="M1665.5,452 L1680,444 L1690,438.1 L1697,441 L1705.5,446 L1705.5,454 L1698,458 L1691,455 L1681,455 L1666,465.8 Z M1681,444 L1681,455 M1690,438.1 L1683,444 L1698,447 L1698,458" stroke-width="1.4" fill="none"/>
<path d="M1726.5,392.8 L1743.8,386.2 L1743.8,412.4 L1726.5,421.5 Z" stroke-width="1.6" fill="none"/>
<line x1="1728.0" y1="394.0" x2="1742.0" y2="388.0" stroke-width="1.0"/>
<path d="M1462.0,557.5 L1490.7,544.0 L1490.7,571.9 L1462.0,586.3 Z" stroke-width="1.6" fill="none"/>
<line x1="1463.0" y1="560.0" x2="1489.0" y2="547.0" stroke-width="1.0"/>
<path d="M1565.1,644.9 L1763.8,530.9 L1822.6,564.4 L1633.3,685 Z" stroke-width="1.4" stroke-dasharray="14 15" stroke-dashoffset="-3"/>
<path d="M1608.3,641.1 L1614.6,636.6 L1636.5,650.2 L1636.5,655.4 L1629.8999999999999,658.5 L1608.3,644.6 Z M1608.8,641.7 L1629.8999999999999,654.0 L1636.5,650.2 M1629.8999999999999,654.0 L1629.8999999999999,658.5" stroke-width="1.5" fill="none"/>
<path d="M1663.3,600.3 L1669.6,595.8 L1691.5,609.4 L1691.5,614.5999999999999 L1684.8999999999999,617.6999999999999 L1663.3,603.8 Z M1663.8,600.9 L1684.8999999999999,613.1999999999999 L1691.5,609.4 M1684.8999999999999,613.1999999999999 L1684.8999999999999,617.6999999999999" stroke-width="1.5" fill="none"/>
<path d="M1683.4,589 L1689.7,584.5 L1711.6000000000001,598.1 L1711.6000000000001,603.3 L1705.0,606.4 L1683.4,592.5 Z M1683.9,589.6 L1705.0,601.9 L1711.6000000000001,598.1 M1705.0,601.9 L1705.0,606.4" stroke-width="1.5" fill="none"/>
<path d="M1705.6,576.7 L1711.8999999999999,572.2 L1733.8,585.8000000000001 L1733.8,591.0 L1727.1999999999998,594.1 L1705.6,580.2 Z M1706.1,577.3000000000001 L1727.1999999999998,589.6 L1733.8,585.8000000000001 M1727.1999999999998,589.6 L1727.1999999999998,594.1" stroke-width="1.5" fill="none"/>
<path d="M1724.3,565.8 L1730.6,561.3 L1752.5,574.9 L1752.5,580.0999999999999 L1745.8999999999999,583.1999999999999 L1724.3,569.3 Z M1724.8,566.4 L1745.8999999999999,578.6999999999999 L1752.5,574.9 M1745.8999999999999,578.6999999999999 L1745.8999999999999,583.1999999999999" stroke-width="1.5" fill="none"/>
<path d="M1743.5,554 L1749.8,549.5 L1771.7,563.1 L1771.7,568.3 L1765.1,571.4 L1743.5,557.5 Z M1744.0,554.6 L1765.1,566.9 L1771.7,563.1 M1765.1,566.9 L1765.1,571.4" stroke-width="1.5" fill="none"/>
<path d="M1990.1,592.1 L1990.1,627.8 L1729.6,777.6 L1729.6,741.4 Z" stroke-width="2.0" fill="none"/>
<ellipse cx="1905.7" cy="662.7" rx="3.6" ry="5" transform="rotate(30 1905.7 662.7)" stroke-width="1.2"/>
<ellipse cx="1822.1" cy="713.7" rx="3.6" ry="5" transform="rotate(30 1822.1 713.7)" stroke-width="1.2"/>
<path d="M1962.0,624.0 L1971.5,619.0 L1971.5,627.0 L1962.0,632.0 Z" stroke-width="1.2" fill="none"/>
<path d="M1984.4,662 L1990,657.4 L1994,657 L2015,668 M1984.4,662 L1985,671 L2008,685 M1990,657.4 L1992,667 M1994,657 L2000,660" stroke-width="1.5" fill="none"/>
<ellipse cx="2016" cy="678" rx="7" ry="9" transform="rotate(-30 2016 678)" stroke-width="1.5"/>
<path d="M1992,667 L2012,679 M1994,672 L2006,679" stroke-width="1.1" fill="none"/>
<rect x="1995" y="671" width="5" height="5" fill="#000" transform="rotate(30 1997 673)"/>
<ellipse cx="1945.4" cy="709" rx="6.2" ry="7.5" transform="rotate(30 1945.4 709)" stroke-width="1.5"/>
<path d="M1933.4,698 L1937.4,702 M1934.4,701 Q1932.4,712 1939.4,715 M1936.4,700 L1944.4,703" stroke-width="1.5" fill="none"/>
<ellipse cx="1850.9" cy="762.4" rx="6.2" ry="7.5" transform="rotate(30 1850.9 762.4)" stroke-width="1.5"/>
<path d="M1838.9,751.4 L1842.9,755.4 M1839.9,754.4 Q1837.9,765.4 1844.9,768.4 M1841.9,753.4 L1849.9,756.4" stroke-width="1.5" fill="none"/>
<path d="M308,456.6 L308,481.2" stroke-width="2.2" fill="none"/>
<path d="M336.5,442.3 L336.5,462" stroke-width="2.6" fill="none"/>
<path d="M289.5,468 L296.5,474 L296.5,500 L308,493 L308,457.5 L289.5,467.5 Z" fill="#fff" stroke-width="1.8"/>
<path d="M286.5,481 Q287,478 290,478 L296.5,476 L296.5,499 Q294,502.5 289,502.5 Q286.5,502 286.5,499 Z" fill="#fff" stroke-width="1.8"/>
<path d="M289.5,480 L289.5,500 M291.5,489 L291.5,501" stroke-width="1.6" fill="none"/>
<path d="M304,465 L305,469 M303,467 L306,466" stroke-width="1.2" fill="none"/>
<path d="M308,915.0 L308,939.5999999999999" stroke-width="2.2" fill="none"/>
<path d="M336.5,900.7 L336.5,920.4" stroke-width="2.6" fill="none"/>
<path d="M289.5,926.4 L296.5,932.4 L296.5,958.4 L308,951.4 L308,915.9 L289.5,925.9 Z" fill="#fff" stroke-width="1.8"/>
<path d="M286.5,939.4 Q287,936.4 290,936.4 L296.5,934.4 L296.5,957.4 Q294,960.9 289,960.9 Q286.5,960.4 286.5,957.4 Z" fill="#fff" stroke-width="1.8"/>
<path d="M289.5,938.4 L289.5,958.4 M291.5,947.4 L291.5,959.4" stroke-width="1.6" fill="none"/>
<path d="M304,923.4 L305,927.4 M303,925.4 L306,924.4" stroke-width="1.2" fill="none"/>
<path d="M1016.9,365.1 Q1009,367 1006.9,373.3 L1006.9,392.5 L1016.9,398 L1027.3,398 M1029.5,395.1 L1037.2,390.3 L1037.2,371 Q1034.5,367.5 1032.1,371 L1032.1,380.3 L1034.6,380.3" stroke-width="1.8" fill="none"/>
<path d="M1018.4,365.5 L1020,367.5 L1024.3,368.5 Q1027,371 1026,374.7 L1021.3,379.9 Q1019.5,384 1021.7,386.6 Q1024,388 1026.5,386.9 L1031,381.4" stroke-width="1.5" fill="none"/>
<path d="M1010.5,373.5 L1014.5,370 M1011.5,374 Q1013,378 1016.2,380.3 L1020.6,385.1 Q1024,389 1028,388 M1011.5,382.1 L1014,382.1" stroke-width="1.4" fill="none"/>
<ellipse cx="1034.6" cy="392" rx="1.4" ry="3" transform="rotate(35 1034.6 392)" stroke-width="1.3"/>
<ellipse cx="1054.7" cy="806.5" rx="9.5" ry="4.6" stroke-width="1.6"/>
<path d="M1047.3,807 L1047.3,792 Q1047.3,788.6 1052.5,788.6 Q1057.7,788.6 1057.7,792 L1057.7,807 Q1052.5,811 1047.3,807 Z" fill="#fff" stroke-width="1.6"/>
<line x1="1047.3" y1="793.5" x2="1057.7" y2="793.5" stroke-width="1.2"/>
<path d="M1044.9,905 L1044.9,918 Q1051,922 1057.7,918 L1057.7,905" fill="#fff" stroke-width="1.6"/>
<ellipse cx="1053.3" cy="901.9" rx="10" ry="5.2" fill="#fff" stroke-width="1.6"/>
<ellipse cx="1052.5" cy="902.3" rx="5.2" ry="2.6" stroke-width="1.3"/>
<path d="M958.6,884.6 L1054.7,830.9 Q1058,830 1059,834 L1060,840 M963.6,887.1 L1057.2,833.9" stroke-width="1.8" fill="none"/>
<line x1="964.0" y1="888.0" x2="1050.0" y2="840.0" stroke-width="2.6"/>
<path d="M964.6,902.9 L1036.5,862.5" stroke-width="1.8" fill="none"/>
<path d="M957.2,887 L963,883.6 L977.4,891 L977.4,899 L966,904 Q960,904 957.2,900 Z" stroke-width="2"/>
<ellipse cx="970" cy="893.5" rx="4.5" ry="5" stroke-width="1.6"/>
<path d="M963,887 L963,903" stroke-width="1.4" fill="none"/>
<path d="M1045,852 Q1038,855 1035,860 Q1035,866 1041,865 L1048,860 Z" stroke-width="1.8" fill="none"/>
<path d="M1047.3,846.7 L1065,858.5 L1087.7,854.6 L1087.7,860.5 L1065,862.5 L1050.3,853.6 Z M1075.9,846.7 L1087.7,854.6" stroke-width="1.8" fill="none"/>
<path d="M1059,835 L1047,845 L1050,850" stroke-width="1.4" fill="none"/>
<path d="M1067.5,854 L1067.5,838 Q1071.5,833 1075.4,838 L1075.4,854 Q1071.5,857 1067.5,854 Z" fill="#fff" stroke-width="1.6"/>
<path d="M1067.5,862.5 L1067.5,875 L1071.5,878.2 L1075.4,875 L1075.4,862.5" stroke-width="1.6" fill="none"/>
<ellipse cx="1080.5" cy="1238.5" rx="8" ry="4.5" stroke-width="1.5"/>
<path d="M1076.8,1240 L1076.8,1230 Q1080.5,1226 1084.3,1230 L1084.3,1240" fill="#fff" stroke-width="1.5"/>
<line x1="1076.8" y1="1232.0" x2="1084.3" y2="1232.0" stroke-width="1.0"/>
<path d="M983.5,1256.8 Q984,1251 995.5,1249.4 L1000,1249 Q1002,1244 1018.5,1236.9 L1023.8,1236.9 L1077,1268.3 L1091.2,1277 L1091.2,1285 L1070.8,1300.7 L1057.2,1301.7 L1042.6,1295.4 L983.5,1262 Z" stroke-width="3.8"/>
<path d="M1000,1249 L1028,1265 L1040,1270 M1001,1247 L1050,1275" stroke-width="1.2" fill="none"/>
<path d="M991,1256 L1046,1287" stroke-width="2.8" fill="none"/>
<path d="M1030,1262 L1060,1279 L1077,1268.3 M1062,1282 L1078,1291" stroke-width="1.2" fill="none"/>
<ellipse cx="1019.6" cy="1242.1" rx="3.5" ry="2.8" fill="#000" stroke="none"/>
<ellipse cx="1040.5" cy="1254.7" rx="3.5" ry="2.8" fill="#000" stroke="none"/>
<ellipse cx="994.5" cy="1257.8" rx="3.5" ry="2.8" fill="#000" stroke="none"/>
<ellipse cx="1014.4" cy="1269.3" rx="3.5" ry="2.8" fill="#000" stroke="none"/>
<path d="M1049.4,1278 L1049.4,1259 Q1052,1255 1055.1,1259 L1055.1,1280" fill="#fff" stroke-width="2.2"/>
<path d="M1077,1280 L1077,1262 Q1081,1257 1085.4,1262 L1085.4,1280 Q1081,1284 1077,1280 Z" fill="#fff" stroke-width="1.8"/>
<ellipse cx="1060" cy="1290.5" rx="9.4" ry="7.5" fill="#fff" stroke-width="2.2"/>
<ellipse cx="1059" cy="1288.5" rx="4.5" ry="3.5" stroke-width="1.3"/>
<path d="M1386.7,826.8 L1400.2,833.6 L1400.2,868.7 L1386.7,861.9 Z" stroke-width="1.8" fill="none"/>
<path d="M1387,832 L1400,838.5 M1387,834.5 L1400,841 M1387,857 L1400,863.5 M1387,859.5 L1400,866" stroke-width="1.0" fill="none"/>
<path d="M1304.8,857.0 L1357.1,885.3 L1357.1,932.7 L1304.8,905.0 Z" stroke-width="2.0" fill="none"/>
<path d="M1313.4,871.8 L1348.5,891.5 L1348.5,919.2 L1313.4,900.1 Z" stroke-width="1.1" fill="none"/>
<path d="M297.5,1102.5 L297.5,1124 M301,1102.5 L301,1124" stroke-width="1.4" fill="none"/>
<path d="M297,1100.5 L301.5,1102" stroke-width="1.4" fill="none"/>
<path d="M292,1133 L297,1125 L301,1125 L305.3,1133 L305.3,1193 L301,1203 L301,1225 Q298.5,1228 295.4,1225 L295.4,1203 L289.7,1193 L289.7,1134 Z" stroke-width="1.5"/>
<path d="M290,1137 Q297,1141 305,1137 M290,1190 Q297,1196 305,1190" stroke-width="1.1" fill="none"/>
<path d="M323,1214.3 L341.4,1201.6 L378.2,1218.6 L392.4,1217.2 L392.4,1228 L383,1235 L378,1238 L357,1250 L352,1252.6 L323,1232 Z" fill="#fff" stroke-width="1.6"/>
<path d="M326,1213 L344,1203 M323,1214.3 L328,1217 L328,1234 M328,1217 L352,1234 L352,1252.6 M352,1234 L378.2,1218.6 M347,1236 L347,1251" stroke-width="1.4" fill="none"/>
<path d="M343,1206 L345,1204 L372,1217" stroke-width="1.2" fill="none"/>
<path d="M357,1236 L366,1247 L380,1244 L369,1232 M366,1229 L378,1240 L392,1238 L380,1226" stroke-width="1.6" fill="none"/>
<circle cx="364" cy="1238" r="2" fill="#000"/><circle cx="378" cy="1230" r="2" fill="#000"/>
<path d="M264.4,1382.9 L268.6,1380.2 L285.3,1400.6 L286.3,1417.4 L284.2,1420 L284.2,1443 L276,1446 L267.5,1443 L267.5,1414 L258,1412 L252.5,1402 L254,1394 L262,1388 Z" fill="#fff" stroke-width="1.6"/>
<path d="M262,1388 L274.8,1405.9 L285.3,1400.6 M274.8,1405.9 L274.8,1422.6 L286.3,1417.4 M267.5,1414 L274.8,1422.6 M256,1397 L264,1401 L264,1411 M266,1383.5 L281,1398" stroke-width="1.2" fill="none"/>
<path d="M267.5,1429 L284.2,1427" stroke-width="1.6" fill="none"/>
<path d="M267.5,1433 L284.2,1431" stroke-width="1.6" fill="none"/>
<path d="M267.5,1437 L284.2,1435" stroke-width="1.6" fill="none"/>
<path d="M267.5,1441 L284.2,1439" stroke-width="1.6" fill="none"/>
<path d="M270,1427 L270,1444 M274.5,1426 L274.5,1446 M279,1425 L279,1445" stroke-width="1.2" fill="none"/>
<path d="M245.6,1389 L254,1394.5 M250,1384 L256,1390" stroke-width="1.8" fill="none"/>
<path d="M275.9,1447.7 Q277,1467 300,1467.5 Q330,1466 345.5,1404" fill="none" stroke-width="5.2"/>
<path d="M275.9,1447.7 Q277,1467 300,1467.5 Q330,1466 345.5,1404" fill="none" stroke="#fff" stroke-width="2.2"/>
<path d="M345.4,1383.9 L345.4,1401 M333.5,1388 Q340,1392 344,1400 M356,1392 L346,1400" stroke-width="1.8" fill="none"/>
<path d="M771.4,1463 Q771.4,1459.1 776,1459.1 Q782.5,1459.1 782.5,1463 L782.5,1492.9 L777,1494 L771.4,1492.9 Z" fill="#fff" stroke-width="1.8"/>
<line x1="772.5" y1="1465.0" x2="781.5" y2="1465.5" stroke-width="1.6"/>
<line x1="772.5" y1="1468.8" x2="781.5" y2="1469.3" stroke-width="1.6"/>
<line x1="772.5" y1="1472.6" x2="781.5" y2="1473.1" stroke-width="1.6"/>
<line x1="772.5" y1="1476.4" x2="781.5" y2="1476.9" stroke-width="1.6"/>
<line x1="772.5" y1="1480.2" x2="781.5" y2="1480.7" stroke-width="1.6"/>
<line x1="772.5" y1="1484.0" x2="781.5" y2="1484.5" stroke-width="1.6"/>
<line x1="772.5" y1="1487.8" x2="781.5" y2="1488.3" stroke-width="1.6"/>
<line x1="772.5" y1="1491.6" x2="781.5" y2="1492.1" stroke-width="1.6"/>
<path d="M762.3,1489.5 L771,1482.1 M782.5,1482.1 L791.6,1489.5 L785,1495 M762.3,1489.5 L770,1496 L785,1496 M762.3,1489.5 L762.3,1496.5 L770,1503.4 L785,1503.4 L791.6,1498 M770,1496 L770,1503.4 M785,1496 L785,1503.4 M791.6,1491 L791.6,1496" stroke-width="1.8" fill="none"/>
<rect x="2219.7" y="212.4" width="81" height="79" stroke-width="1.8"/>
<path d="M2221,217.2 L2242.1,217.2 L2258.4,244.5 L2241.2,272.4 L2221,272.4" stroke-width="1.8" fill="none"/>
<path d="M2221,218.1 Q2252,226 2252.4,243.1 Q2251,262 2231.7,270.7" stroke-width="1.0" fill="none"/>
<path d="M2221,230.7 Q2239.5,231 2239.5,244.6 Q2239,258 2221,258.6" stroke-width="1.0" fill="none"/>
<path d="M2263.4,229.4 L2263.4,238.3 Q2265,243.5 2274.1,249 L2274.1,290.1 L2288,290.1 L2288,247.2 Q2295.6,242 2295.6,234.6 Q2295.6,222 2283.5,220 L2278,220.2 L2285.9,229.9 L2284.3,232 L2274.4,239.8 Z" fill="#000" stroke="none"/>
<rect x="2219.7" y="350" width="81" height="79.3" stroke-width="1.8"/>
<path d="M2235.5,354.3 V424.1 M2244.5,354.3 V424.1 M2254.5,354.3 V424.1 M2263.5,354.3 V424.1 M2273.5,354.3 V424.1 M2282.5,354.3 V424.1 " stroke-width="1"/>
<path d="M2290.3,362 L2234,362 Q2225.7,362 2225.7,371.4 Q2225.7,380.7 2234,380.7 L2284,380.7 Q2293,380.7 2293,389.9 Q2293,399.1 2284,399.1 L2234,399.1 Q2225.7,399.1 2225.7,407.7 Q2225.7,416.4 2234,416.4 L2290.3,416.4" stroke-width="7.6" stroke-linecap="butt"/>
</g>
</svg></body></html>
